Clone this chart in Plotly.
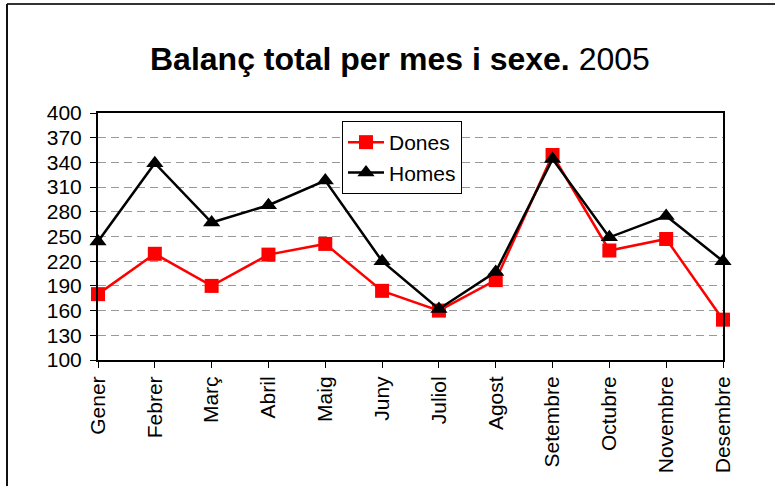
import plotly.graph_objects as go

months = ["Gener", "Febrer", "Març", "Abril", "Maig", "Juny", "Juliol",
          "Agost", "Setembre", "Octubre", "Novembre", "Desembre"]
dones = [180, 229, 190, 228, 241, 184, 160, 197, 349, 233, 247, 149]
homes = [244, 339, 267, 288, 318, 220, 162, 207, 344, 249, 275, 220]
y_ticks = [100, 130, 160, 190, 220, 250, 280, 310, 340, 370, 400]

FONT = "Liberation Sans, Arial, sans-serif"
W, H = 775, 486
L, R, T, B = 98, 52, 113, 126
pw, ph = W - L - R, H - T - B

def px(x):
    return (x - L) / pw

def py(y):
    return (H - B - y) / ph

xs = list(range(len(months)))

fig = go.Figure()
fig.add_trace(go.Scatter(
    x=xs, y=dones, name="Dones", mode="lines+markers",
    line=dict(color="#ff0000", width=2.5),
    marker=dict(symbol="square", size=14, color="#ff0000"),
    cliponaxis=False,
))
fig.add_trace(go.Scatter(
    x=xs, y=homes, name="Homes", mode="lines+markers",
    line=dict(color="#000000", width=2.5),
    marker=dict(symbol="triangle-up", size=15, color="#000000"),
    cliponaxis=False,
))

fig.update_layout(
    width=W, height=H,
    margin=dict(l=L, r=R, t=T, b=B),
    paper_bgcolor="white", plot_bgcolor="white",
    font=dict(family=FONT, size=21, color="black"),
    showlegend=True,
    legend=dict(
        x=px(342), y=py(121), xanchor="left", yanchor="top",
        bordercolor="black", borderwidth=1, bgcolor="white",
        font=dict(size=21, family=FONT), itemwidth=36,
        tracegroupgap=0,
    ),
    xaxis=dict(
        range=[0, 11], tickmode="array", tickvals=xs, ticktext=months,
        tickangle=-90, ticks="outside", ticklen=6, tickcolor="black",
        showline=True, linecolor="black", linewidth=2, mirror=True,
        showgrid=False, zeroline=False,
        tickfont=dict(size=21, family=FONT),
    ),
    yaxis=dict(
        range=[100, 400], tickmode="array", tickvals=y_ticks,
        ticks="outside", ticklen=6, tickcolor="black",
        showline=True, linecolor="black", linewidth=2, mirror=True,
        showgrid=True, gridcolor="#999999", gridwidth=1, griddash="8px,5px",
        zeroline=False, ticklabelstandoff=4,
        tickfont=dict(size=21, family=FONT),
    ),
    annotations=[dict(
        text="<b>Balanç total per mes i sexe.</b> 2005",
        x=px(400), y=py(59), xref="paper", yref="paper",
        xanchor="center", yanchor="middle", showarrow=False,
        font=dict(size=32, family=FONT, color="black"),
    )],
    shapes=[
        dict(type="line", xref="paper", yref="paper",
             x0=px(7), x1=px(776), y0=py(4), y1=py(4),
             line=dict(color="#333333", width=2)),
        dict(type="line", xref="paper", yref="paper",
             x0=px(7), x1=px(7), y0=py(4), y1=py(487),
             line=dict(color="#111111", width=2)),
    ],
)

fig.write_html(
    "out.html",
    config={"displayModeBar": False},
    post_script="document.body.style.margin='0';document.body.style.overflow='hidden';",
)
